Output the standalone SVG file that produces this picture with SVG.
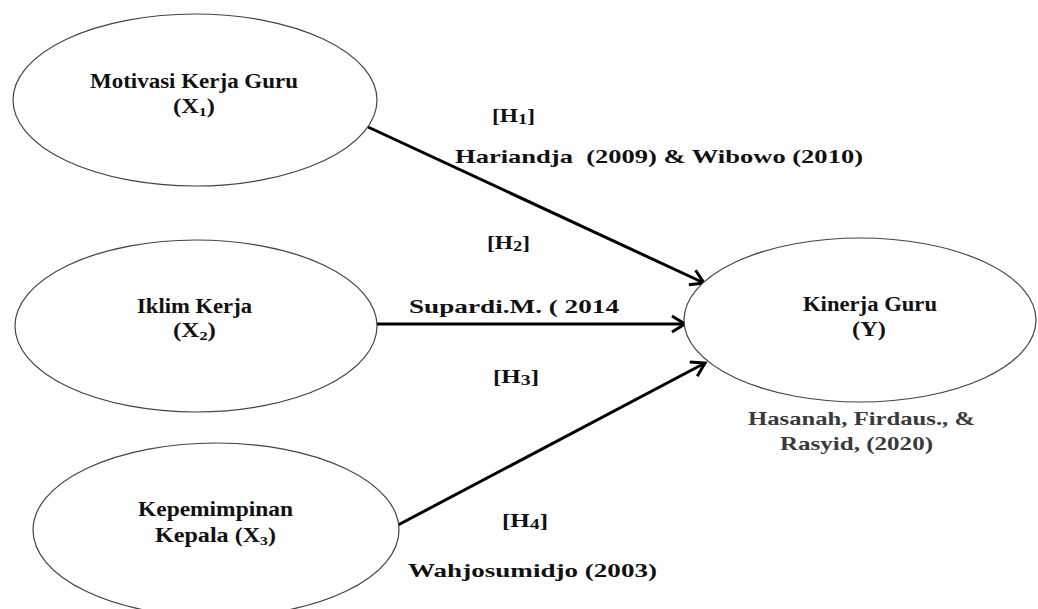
<svg xmlns="http://www.w3.org/2000/svg" width="1038" height="609" viewBox="0 0 1038 609">
<style>
.node ellipse{fill:#fff;stroke:#444;stroke-width:1.2}
text{font-family:"Liberation Serif","Times New Roman",serif;font-weight:bold;fill:#111;white-space:pre}
.n{font-size:20px}
.l{font-size:19px}
.g{fill:#3a3a3a}
.edge{stroke:#000;stroke-width:3;fill:none;marker-end:url(#ah)}
</style>
<defs>
<marker id="ah" markerUnits="userSpaceOnUse" markerWidth="22" markerHeight="22" refX="16" refY="11" orient="auto" viewBox="0 0 22 22">
<path d="M3,3 L16,11 L3,19" fill="none" stroke="#000" stroke-width="3" stroke-linejoin="miter"/>
</marker>
</defs>
<rect width="1038" height="609" fill="#fff"/>
<g id="connectors">
<line class="edge" x1="368" y1="127" x2="704" y2="283"/>
<line class="edge" x1="377" y1="324" x2="685" y2="324"/>
<line class="edge" x1="398" y1="525" x2="705" y2="363"/>
</g>
<g id="node-x1" class="node">
<ellipse cx="195" cy="100" rx="182" ry="86"/>
<text class="n" x="90" y="88" textLength="208" lengthAdjust="spacingAndGlyphs">Motivasi Kerja Guru</text>
<text class="n" x="173" y="113" textLength="42" lengthAdjust="spacingAndGlyphs">(X<tspan font-size="13" dy="3">1</tspan><tspan dy="-3">)</tspan></text>
</g>
<g id="node-x2" class="node">
<ellipse cx="196" cy="326" rx="181" ry="86"/>
<text class="n" x="137" y="313" textLength="115" lengthAdjust="spacingAndGlyphs">Iklim Kerja</text>
<text class="n" x="173" y="337" textLength="43" lengthAdjust="spacingAndGlyphs">(X<tspan font-size="13" dy="3">2</tspan><tspan dy="-3">)</tspan></text>
</g>
<g id="node-x3" class="node">
<ellipse cx="216" cy="530" rx="183" ry="87"/>
<text class="n" x="138" y="516" textLength="155" lengthAdjust="spacingAndGlyphs">Kepemimpinan</text>
<text class="n" x="155" y="542" textLength="121" lengthAdjust="spacingAndGlyphs">Kepala (X<tspan font-size="13" dy="3">3</tspan><tspan dy="-3">)</tspan></text>
</g>
<g id="node-y" class="node">
<ellipse cx="860" cy="320" rx="176" ry="82"/>
<text class="n" x="803" y="311" textLength="134" lengthAdjust="spacingAndGlyphs">Kinerja Guru</text>
<text class="n" x="852" y="336" textLength="34" lengthAdjust="spacingAndGlyphs">(Y)</text>
</g>
<g id="labels">
<text class="l" x="492" y="122" textLength="43" lengthAdjust="spacingAndGlyphs">[H<tspan font-size="15" dy="2">1</tspan><tspan dy="-2">]</tspan></text>
<text class="l" x="455" y="163" textLength="408" lengthAdjust="spacingAndGlyphs">Hariandja  (2009) &amp; Wibowo (2010)</text>
<text class="l" x="487" y="249" textLength="43" lengthAdjust="spacingAndGlyphs">[H<tspan font-size="15" dy="2">2</tspan><tspan dy="-2">]</tspan></text>
<text class="l" x="409" y="313" textLength="210" lengthAdjust="spacingAndGlyphs">Supardi.M. ( 2014</text>
<text class="l" x="493" y="383" textLength="46" lengthAdjust="spacingAndGlyphs">[H<tspan font-size="15" dy="2">3</tspan><tspan dy="-2">]</tspan></text>
<text class="l" x="502" y="527" textLength="46" lengthAdjust="spacingAndGlyphs">[H<tspan font-size="15" dy="2">4</tspan><tspan dy="-2">]</tspan></text>
<text class="l" x="408" y="577" textLength="249" lengthAdjust="spacingAndGlyphs">Wahjosumidjo (2003)</text>
<text class="l g" x="748" y="425" textLength="227" lengthAdjust="spacingAndGlyphs">Hasanah, Firdaus., &amp;</text>
<text class="l g" x="780" y="450" textLength="153" lengthAdjust="spacingAndGlyphs">Rasyid, (2020)</text>
</g>
</svg>
